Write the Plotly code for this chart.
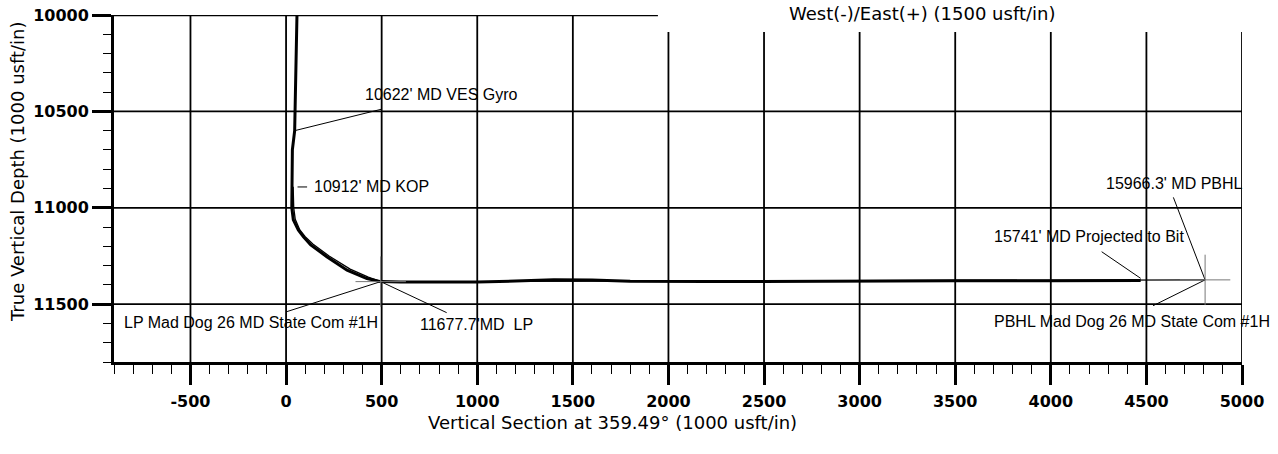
import plotly.graph_objects as go

# ---- axis ticks ----
x_ticks = [-500, 0, 500, 1000, 1500, 2000, 2500, 3000, 3500, 4000, 4500, 5000]
x_tick_labels = ["-500", "0", "500", "1000", "1500", "2000", "2500", "3000", "3500", "4000", "4500", "5000"]
y_ticks = [10000, 10500, 11000, 11500]
y_tick_labels = ["10000", "10500", "11000", "11500"]

# ---- actual well path (Vertical Section, TVD) ----
actual_vs = [57, 45, 45, 33, 33, 30, 38, 64, 91, 129, 215, 265, 319, 423, 495,
             600, 1000, 1200, 1400, 1600, 1800, 2200, 2600, 3000, 3500, 4000, 4300, 4470]
actual_tvd = [10000, 10500, 10600, 10700, 10900, 11000, 11063, 11115, 11151, 11193, 11255, 11288,
              11324, 11367, 11383, 11385, 11385, 11380, 11373, 11375, 11381, 11383, 11381, 11380,
              11379, 11379, 11378, 11377]

# ---- plan ----
plan_vs = [37, 40, 48, 72, 100, 140, 225, 280, 335, 430, 495, 4807]
plan_tvd = [10891, 11000, 11060, 11115, 11150, 11188, 11250, 11283, 11318, 11360, 11383, 11374]

# ---- targets ----
target_vs = [495, 4807]
target_tvd = [11383, 11374]

# ---- labels (text, VS, TVD) ----
label_text = ["10622' MD VES Gyro", "10912' MD KOP", "LP Mad Dog 26 MD State Com #1H",
              "11677.7'MD  LP", "15966.3' MD PBHL", "15741' MD Projected to Bit",
              "PBHL Mad Dog 26 MD State Com #1H"]
label_vs = [403, 134, -859, 690, 4278, 3691, 3691]
label_tvd = [10410, 10892, 11597, 11603, 10873, 11150, 11591]

# ---- leader lines (from VS,TVD  to VS,TVD) ----
leader_from_vs = [45, 60, 0, 495, 4641, 4266, 4535]
leader_from_tvd = [10600, 10892, 11540, 11383, 10946, 11228, 11508]
leader_to_vs = [502, 110, 495, 840, 4807, 4470, 4807]
leader_to_tvd = [10488, 10892, 11383, 11544, 11374, 11366, 11374]

X_MIN, X_MAX = -900, 5000
Y_TOP, Y_BOT = 10000, 11800
TOP_LINE_END = 1945
RIGHT_GRID_TOP = 10088

fig = go.Figure()

# plan line (thin)
fig.add_trace(go.Scatter(x=plan_vs, y=plan_tvd, mode="lines",
                         line=dict(color="black", width=1.3), hoverinfo="skip"))
# actual path (thick)
fig.add_trace(go.Scatter(x=actual_vs, y=actual_tvd, mode="lines",
                         line=dict(color="black", width=3), hoverinfo="skip"))

# leader lines
lx, ly = [], []
for a, b, c, d in zip(leader_from_vs, leader_from_tvd, leader_to_vs, leader_to_tvd):
    lx += [a, c, None]
    ly += [b, d, None]
fig.add_trace(go.Scatter(x=lx, y=ly, mode="lines",
                         line=dict(color="black", width=1), hoverinfo="skip"))

# target crosses
fig.add_trace(go.Scatter(x=target_vs, y=target_tvd, mode="markers",
                         marker=dict(symbol="cross-thin", size=36,
                                     line=dict(color="#777777", width=1)),
                         hoverinfo="skip"))

# labels
for t, xv, yv in zip(label_text, label_vs, label_tvd):
    fig.add_annotation(x=xv, y=yv, text=t, showarrow=False, xanchor="left", yanchor="middle",
                       font=dict(family="Liberation Sans", size=16, color="black"))

shapes = []
# vertical grid lines
for v in x_ticks:
    y0 = Y_TOP if v < TOP_LINE_END else RIGHT_GRID_TOP
    shapes.append(dict(type="line", xref="x", yref="y", x0=v, x1=v, y0=y0, y1=Y_BOT,
                       line=dict(color="black", width=1.8), layer="below"))
# horizontal grid lines
for v in y_ticks[1:]:
    shapes.append(dict(type="line", xref="x", yref="y", x0=X_MIN, x1=X_MAX, y0=v, y1=v,
                       line=dict(color="black", width=1.8), layer="below"))
# top border (partial)
shapes.append(dict(type="line", xref="x", yref="y", x0=X_MIN, x1=TOP_LINE_END, y0=Y_TOP, y1=Y_TOP,
                   line=dict(color="black", width=2.5), layer="below"))

fig.update_layout(
    width=1278, height=454,
    margin=dict(l=114, r=36, t=15, b=92, autoexpand=False),
    paper_bgcolor="white", plot_bgcolor="white",
    showlegend=False,
    shapes=shapes,
    xaxis=dict(range=[X_MIN, X_MAX], tickvals=x_ticks, ticktext=x_tick_labels,
               showgrid=False, zeroline=False, automargin=False,
               showline=True, linewidth=3, linecolor="black",
               ticks="outside", ticklen=20, tickwidth=2.5, tickcolor="black",
               ticklabelstandoff=3,
               minor=dict(dtick=100, tick0=0, ticks="outside", ticklen=9, tickwidth=1.2,
                          tickcolor="black", showgrid=False),
               tickfont=dict(family="DejaVu Sans", size=16, color="black", weight="bold")),
    yaxis=dict(range=[Y_BOT, Y_TOP], tickvals=y_ticks, ticktext=y_tick_labels,
               showgrid=False, zeroline=False, automargin=False,
               showline=True, linewidth=3, linecolor="black",
               ticks="outside", ticklen=19, tickwidth=2.5, tickcolor="black",
               minor=dict(dtick=100, tick0=0, ticks="outside", ticklen=8, tickwidth=1.2,
                          tickcolor="black", showgrid=False),
               tickfont=dict(family="DejaVu Sans", size=16, color="black", weight="bold")),
)

# axis titles
fig.add_annotation(xref="paper", yref="paper", x=0, y=1 - (172 - 15) / 347, xshift=-96,
                   text="True Vertical Depth (1000 usft/in)", textangle=-90, showarrow=False,
                   xanchor="center", yanchor="middle",
                   font=dict(family="DejaVu Sans", size=18, color="black"))
fig.add_annotation(xref="paper", yref="paper", x=(612 - 114) / 1128, y=0, yshift=-60,
                   text="Vertical Section at 359.49° (1000 usft/in)", showarrow=False,
                   xanchor="center", yanchor="middle",
                   font=dict(family="DejaVu Sans", size=18, color="black"))
fig.add_annotation(xref="paper", yref="paper", x=(922 - 114) / 1128, y=1, yshift=2,
                   text="West(-)/East(+) (1500 usft/in)", showarrow=False,
                   xanchor="center", yanchor="middle",
                   font=dict(family="DejaVu Sans", size=18, color="black"))

fig.write_html("out.html", config={"displayModeBar": False},
               post_script="document.body.style.margin='0';document.body.style.overflow='hidden';")
